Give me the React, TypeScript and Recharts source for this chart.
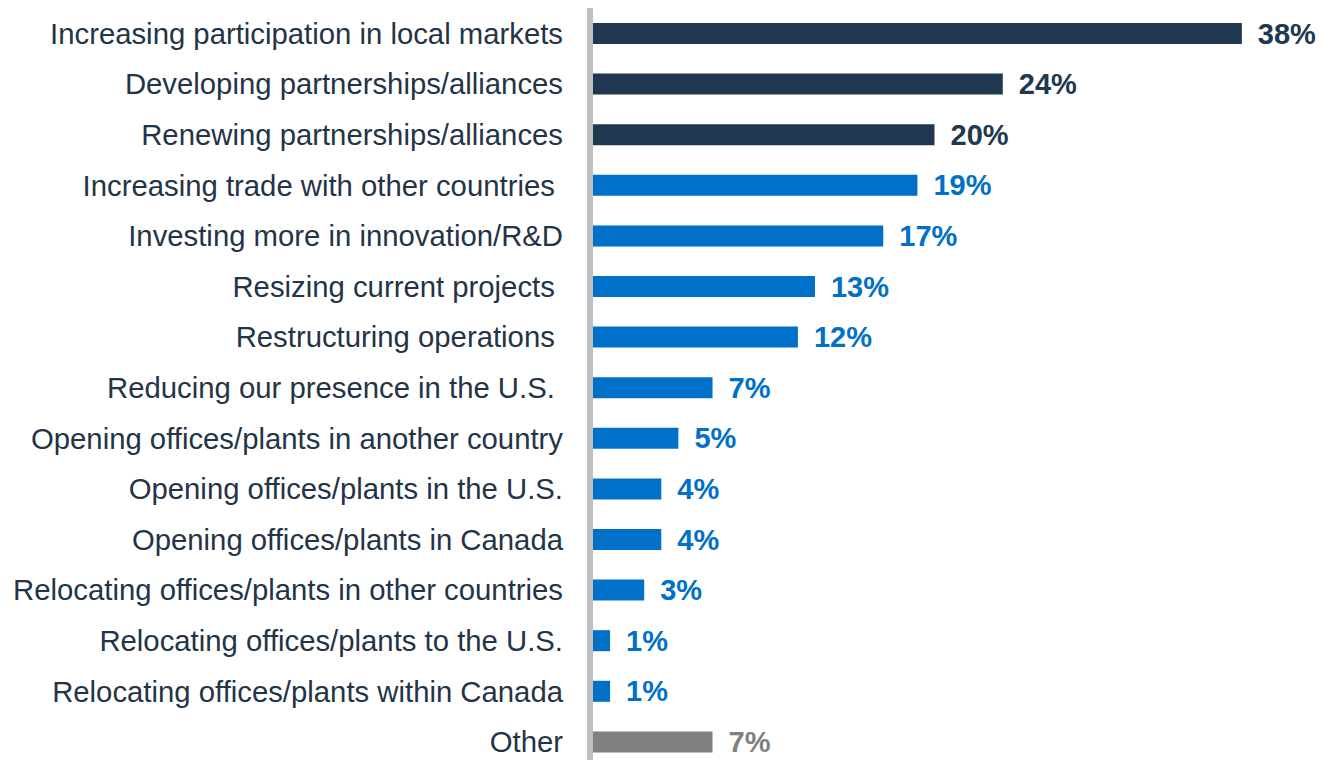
import { Bar, BarChart, Cell, LabelList, ReferenceLine, XAxis, YAxis } from 'recharts';

const categories = [
  'Increasing participation in local markets',
  'Developing partnerships/alliances',
  'Renewing partnerships/alliances',
  'Increasing trade with other countries ',
  'Investing more in innovation/R&D',
  'Resizing current projects ',
  'Restructuring operations ',
  'Reducing our presence in the U.S. ',
  'Opening offices/plants in another country',
  'Opening offices/plants in the U.S.',
  'Opening offices/plants in Canada',
  'Relocating offices/plants in other countries',
  'Relocating offices/plants to the U.S.',
  'Relocating offices/plants within Canada',
  'Other',
];

const shares = [38, 24, 20, 19, 17, 13, 12, 7, 5, 4, 4, 3, 1, 1, 7];

const groups = ['top', 'top', 'top', 'rest', 'rest', 'rest', 'rest', 'rest', 'rest', 'rest', 'rest', 'rest', 'rest', 'rest', 'other'];

const groupColors: Record<string, string> = {
  top: '#20384F',
  rest: '#0070C8',
  other: '#808080',
};

const data = categories.map((name, i) => ({ name, value: shares[i], group: groups[i] }));

const FONT = '"Liberation Sans", Arial, sans-serif';

function CategoryTick(props: any) {
  const { x, y, payload } = props;
  return (
    <text
      x={x}
      y={y}
      textAnchor="end"
      dominantBaseline="central"
      fill="#243447"
      fontSize={29.3}
      fontFamily={FONT}
      style={{ whiteSpace: 'pre' }}
    >
      {payload.value}
    </text>
  );
}

function ValueLabel(props: any) {
  const { x, y, width, height, index, value } = props;
  return (
    <text
      x={x + width + 16}
      y={y + height / 2}
      dominantBaseline="central"
      fill={groupColors[groups[index]]}
      fontSize={29}
      fontWeight="bold"
      fontFamily={FONT}
    >
      {value}%
    </text>
  );
}

export default function App() {
  return (
    <div style={{ position: 'absolute', left: 0, top: 0, width: 1324, height: 760, overflow: 'hidden', background: '#fff' }}>
      <BarChart
        width={1324}
        height={767}
        data={data}
        layout="vertical"
        margin={{ top: 8, right: 48, bottom: 0, left: 0 }}
        barSize={21}
      >
        <XAxis type="number" domain={[0, 40]} hide />
        <YAxis
          type="category"
          dataKey="name"
          width={593}
          axisLine={false}
          tickLine={false}
          tickSize={0}
          tickMargin={30}
          interval={0}
          tick={<CategoryTick />}
        />
        <Bar dataKey="value" isAnimationActive={false}>
          {data.map((d, i) => (
            <Cell key={i} fill={groupColors[d.group]} />
          ))}
          <LabelList dataKey="value" content={<ValueLabel />} />
        </Bar>
        <ReferenceLine
          x={0}
          stroke="#BFBFBF"
          strokeWidth={6}
          shape={(p: any) => (
            <line x1={p.x1 - 3} y1={p.y1} x2={p.x2 - 3} y2={p.y2} stroke="#BFBFBF" strokeWidth={6} />
          )}
        />
      </BarChart>
    </div>
  );
}
